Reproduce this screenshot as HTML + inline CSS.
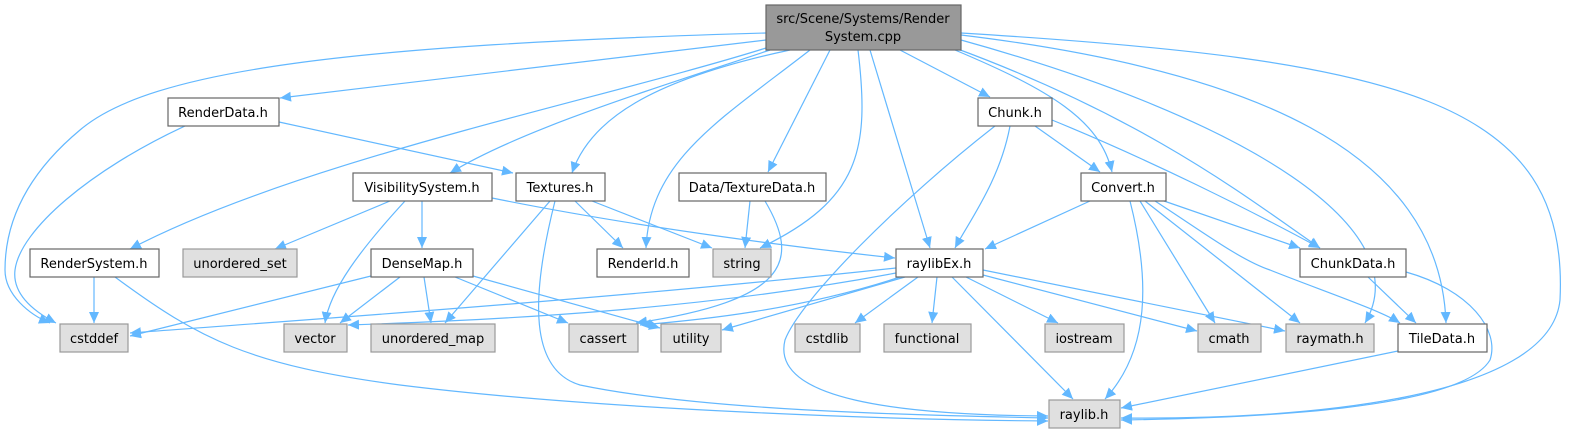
<!DOCTYPE html>
<html><head><meta charset="utf-8"><style>
html,body{margin:0;padding:0;background:#fff;}
svg{display:block;}
text{font-family:"DejaVu Sans","Liberation Sans",sans-serif;font-size:13px;fill:#000;}
.e{fill:none;stroke:#63b8ff;stroke-width:1.2;}
.w{fill:#fff;stroke:#666;stroke-width:1.2;}
.g{fill:#e0e0e0;stroke:#999;stroke-width:1.2;}
</style></head><body>
<svg width="1580" height="434" viewBox="0 0 1580 434" xmlns="http://www.w3.org/2000/svg">
<defs><marker id="a" markerUnits="userSpaceOnUse" markerWidth="12" markerHeight="10" refX="11" refY="5" orient="auto"><path d="M0,0 L11,5 L0,10 z" fill="#63b8ff"/></marker></defs>
<g class="e" marker-end="url(#a)">
<path d="M766,33 C350,45 150,70 80,130 C20,180 5,230 5,270 C5,295 30,315 50,323"/>
<path d="M766,40 L280,98"/>
<path d="M766,48 C600,100 300,160 130,249"/>
<path d="M770,50 C650,90 520,130 450,173"/>
<path d="M790,50 C650,80 590,120 572,173"/>
<path d="M810,50 C720,120 650,160 646,248"/>
<path d="M830,50 L768,172"/>
<path d="M858,50 C870,150 860,200 760,248"/>
<path d="M870,50 L930,248"/>
<path d="M900,50 L990,97"/>
<path d="M955,50 C1050,90 1100,120 1112,172"/>
<path d="M955,48 C1150,120 1250,200 1320,248"/>
<path d="M961,40 C1250,120 1420,230 1365,323"/>
<path d="M961,35 C1250,70 1440,150 1446,323"/>
<path d="M961,33 C1400,60 1570,100 1560,300 C1550,400 1300,420 1121,418"/>
<path d="M185,126 C90,170 20,230 15,270 C12,295 35,312 56,323"/>
<path d="M279,122 L513,173"/>
<path d="M390,201 L275,249"/>
<path d="M405,201 C360,250 330,290 325,323"/>
<path d="M422,201 L422,248"/>
<path d="M492,198 C650,230 820,250 895,258"/>
<path d="M575,201 L623,248"/>
<path d="M592,201 L712,248"/>
<path d="M550,201 L445,323"/>
<path d="M555,201 C530,300 530,370 580,385 C700,410 900,415 1048,418"/>
<path d="M750,201 L745,248"/>
<path d="M765,201 C800,260 790,300 636,323"/>
<path d="M1035,126 L1100,172"/>
<path d="M1010,126 C1000,180 970,220 955,248"/>
<path d="M1052,120 C1150,160 1250,210 1320,248"/>
<path d="M995,126 C900,200 800,300 785,340 C770,400 900,415 1048,416"/>
<path d="M1090,201 L985,249"/>
<path d="M1164,201 L1300,248"/>
<path d="M1140,201 L1215,323"/>
<path d="M1145,201 L1300,323"/>
<path d="M1155,201 C1200,230 1240,260 1270,270 C1320,290 1380,310 1400,323"/>
<path d="M1130,201 C1150,280 1150,350 1105,399"/>
<path d="M94,277 L94,323"/>
<path d="M115,277 C200,340 250,365 400,385 C600,410 900,420 1048,421"/>
<path d="M371,276 L130,336"/>
<path d="M400,277 L340,323"/>
<path d="M424,277 L431,323"/>
<path d="M455,277 L568,323"/>
<path d="M473,276 L660,328"/>
<path d="M896,268 C600,300 300,320 130,333"/>
<path d="M896,273 C700,310 500,320 348,325"/>
<path d="M900,277 C800,310 700,320 640,325"/>
<path d="M905,277 L722,330"/>
<path d="M918,277 L855,323"/>
<path d="M937,277 L932,323"/>
<path d="M966,277 L1058,323"/>
<path d="M983,275 L1197,331"/>
<path d="M983,270 L1285,331"/>
<path d="M952,277 L1073,399"/>
<path d="M1368,277 L1416,323"/>
<path d="M1406,272 C1470,290 1500,330 1490,360 C1460,410 1250,418 1121,420"/>
<path d="M1398,351 L1121,408"/>
</g>
<rect x="766" y="5" width="195" height="45" fill="#999" stroke="#666" stroke-width="1.2"/>
<text x="863" y="23" text-anchor="middle">src/Scene/Systems/Render</text>
<text x="863" y="41" text-anchor="middle">System.cpp</text>
<g>
<rect class="w" x="168" y="98" width="111" height="28"/><text x="223" y="117" text-anchor="middle">RenderData.h</text>
<rect class="w" x="978" y="98" width="74" height="28"/><text x="1015" y="117" text-anchor="middle">Chunk.h</text>
<rect class="w" x="353" y="173" width="139" height="28"/><text x="422" y="192" text-anchor="middle">VisibilitySystem.h</text>
<rect class="w" x="516" y="173" width="89" height="28"/><text x="560" y="192" text-anchor="middle">Textures.h</text>
<rect class="w" x="679" y="173" width="147" height="28"/><text x="752" y="192" text-anchor="middle">Data/TextureData.h</text>
<rect class="w" x="1081" y="173" width="85" height="28"/><text x="1123" y="192" text-anchor="middle">Convert.h</text>
<rect class="w" x="30" y="249" width="129" height="28"/><text x="94" y="268" text-anchor="middle">RenderSystem.h</text>
<rect class="g" x="183" y="249" width="114" height="28"/><text x="240" y="268" text-anchor="middle">unordered_set</text>
<rect class="w" x="371" y="249" width="102" height="28"/><text x="422" y="268" text-anchor="middle">DenseMap.h</text>
<rect class="w" x="597" y="249" width="92" height="28"/><text x="643" y="268" text-anchor="middle">RenderId.h</text>
<rect class="g" x="713" y="249" width="58" height="28"/><text x="742" y="268" text-anchor="middle">string</text>
<rect class="w" x="896" y="249" width="87" height="28"/><text x="939" y="268" text-anchor="middle">raylibEx.h</text>
<rect class="w" x="1300" y="249" width="106" height="28"/><text x="1353" y="268" text-anchor="middle">ChunkData.h</text>
<rect class="g" x="60" y="324" width="68" height="28"/><text x="94" y="343" text-anchor="middle">cstddef</text>
<rect class="g" x="284" y="324" width="63" height="28"/><text x="315" y="343" text-anchor="middle">vector</text>
<rect class="g" x="371" y="324" width="124" height="28"/><text x="433" y="343" text-anchor="middle">unordered_map</text>
<rect class="g" x="569" y="324" width="69" height="28"/><text x="603" y="343" text-anchor="middle">cassert</text>
<rect class="g" x="661" y="324" width="60" height="28"/><text x="691" y="343" text-anchor="middle">utility</text>
<rect class="g" x="795" y="324" width="65" height="28"/><text x="827" y="343" text-anchor="middle">cstdlib</text>
<rect class="g" x="884" y="324" width="87" height="28"/><text x="927" y="343" text-anchor="middle">functional</text>
<rect class="g" x="1045" y="324" width="79" height="28"/><text x="1084" y="343" text-anchor="middle">iostream</text>
<rect class="g" x="1198" y="324" width="63" height="28"/><text x="1229" y="343" text-anchor="middle">cmath</text>
<rect class="g" x="1286" y="324" width="88" height="28"/><text x="1330" y="343" text-anchor="middle">raymath.h</text>
<rect class="w" x="1398" y="324" width="89" height="28"/><text x="1442" y="343" text-anchor="middle">TileData.h</text>
<rect class="g" x="1049" y="400" width="71" height="28"/><text x="1084" y="419" text-anchor="middle">raylib.h</text>
</g>
</svg>
</body></html>
